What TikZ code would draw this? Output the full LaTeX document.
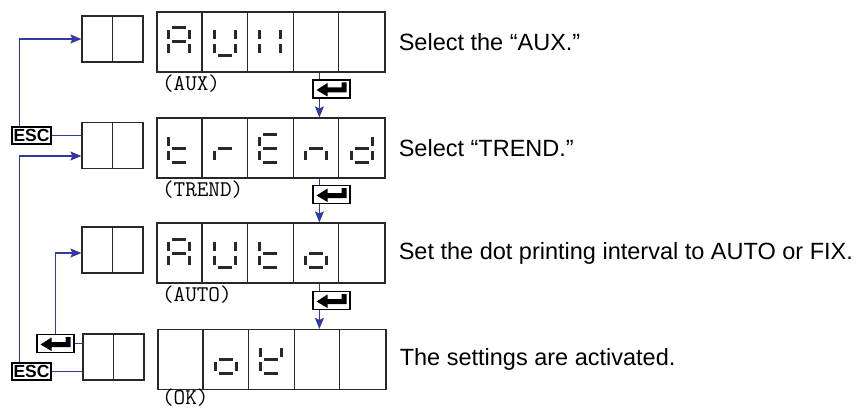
\documentclass[tikz,border=0pt]{standalone}
\usepackage{fontspec}
\setmainfont{Liberation Sans}
\usepackage{xcolor}
\usetikzlibrary{calc,positioning,arrows.meta}

\definecolor{linkblue}{RGB}{48,58,160}
\definecolor{frame}{RGB}{40,40,40}

% segments of one 7-segment character (centre at 0,0, y downwards)
\newcommand\segma{(-7,-14) -- (7,-14)}
\newcommand\segmb{(10.5,-11.5) -- (10.5,-2.5)}
\newcommand\segmc{(10.5,2.5) -- (10.5,11.5)}
\newcommand\segmd{(-7,14) -- (7,14)}
\newcommand\segme{(-10.5,2.5) -- (-10.5,11.5)}
\newcommand\segmf{(-10.5,-11.5) -- (-10.5,-2.5)}
\newcommand\segmg{(-7,0) -- (7,0)}
\newcommand\segchar[3]{%
  \begin{scope}[shift={($(#1.west)+({45.6*(#2-0.5)},0)$)}]
    \foreach \s in {#3} {\draw[seg] \csname segm\s\endcsname;}
  \end{scope}}
% arrow sign on an enter key
\newcommand\enterglyph[1]{%
  \fill[shift={(#1.center)}] (-15,1) -- (-4,-6) -- (-4,-1.5) -- (10,-1.5) -- (10,-6.5)
    -- (15,-6.5) -- (15,3.5) -- (-4,3.5) -- (-4,7.5) -- cycle;}

\tikzset{
  smallbox/.style={draw=frame, line width=1.2pt, minimum width=61pt, minimum height=46pt, inner sep=0pt},
  display/.style={draw=frame, line width=1.2pt, minimum width=228pt, minimum height=60pt, inner sep=0pt},
  divider/.style={draw=frame, line width=1.2pt},
  seg/.style={line width=3pt, frame},
  keybox/.style={draw=black, line width=1.4pt, fill=white, inner sep=0pt},
  esckey/.style={keybox, minimum width=39pt, minimum height=17pt, font=\fontsize{17.5}{17.5}\selectfont\bfseries},
  enterkey/.style={keybox, minimum width=37pt, minimum height=18pt},
  link/.style={draw=linkblue, line width=1.3pt},
  flow/.style={link, -{Stealth[length=11pt,width=9pt,inset=2pt]}},
  note/.style={anchor=west, inner sep=3pt, font=\fontsize{23.5}{26}\selectfont},
  code/.style={anchor=north west, inner sep=0.5pt, font=\ttfamily\fontsize{22.5}{22.5}\selectfont},
}

\begin{document}
\begin{tikzpicture}[x=1pt,y=-1pt]
  \useasboundingbox (0,0) rectangle (861,409);

  % Displays
  \node[display] (bg1) at (271,42) {};
  \node[display] (bg2) at (271,148) {};
  \node[display] (bg3) at (271,253) {};
  \node[display] (bg4) at (272,359.5) {};
  \foreach \r in {1,...,4}
    \foreach \k in {1,...,4}
      \draw[divider] ($(bg\r.north west)+(45.6*\k,0)$) -- ($(bg\r.south west)+(45.6*\k,0)$);

  % Small boxes
  \node[smallbox] (sm1) at (112.5,39) {};
  \node[smallbox] (sm2) at (112.5,145.5) {};
  \node[smallbox] (sm3) at (112.5,250) {};
  \node[smallbox] (sm4) at (113.5,357) {};
  \foreach \r in {1,...,4}
    \draw[divider] (sm\r.north) -- (sm\r.south);

  % Characters
  \segchar{bg1}{1}{a,b,c,e,f,g}
  \segchar{bg1}{2}{b,c,d,e,f}
  \segchar{bg1}{3}{b,c,e,f}
  \segchar{bg2}{1}{d,e,f,g}
  \segchar{bg2}{2}{e,g}
  \segchar{bg2}{3}{a,d,e,f,g}
  \segchar{bg2}{4}{c,e,g}
  \segchar{bg2}{5}{b,c,d,e,g}
  \segchar{bg3}{1}{a,b,c,e,f,g}
  \segchar{bg3}{2}{b,c,d,e,f}
  \segchar{bg3}{3}{d,e,f,g}
  \segchar{bg3}{4}{c,d,e,g}
  \segchar{bg4}{2}{c,d,e,g}
  \segchar{bg4}{3}{b,d,e,f,g}

  % Labels under the displays
  \node[code] at ([xshift=5pt,yshift=-1.5pt]bg1.south west) {(AUX)};
  \node[code] at ([xshift=5pt,yshift=-1.5pt]bg2.south west) {(TREND)};
  \node[code] at ([xshift=5pt,yshift=-1.5pt]bg3.south west) {(AUTO)};
  \node[code] at ([xshift=4pt,yshift=1.5pt]bg4.south west) {(OK)};

  % Notes
  \node[note, right=10pt of bg1] (n1) {Select the “AUX.”};
  \node[note, right=10pt of bg2] (n2) {Select “TREND.”};
  \node[note, right=10pt of bg3] (n3) {Set the dot printing interval to AUTO or FIX.};
  \node[note, right=10pt of bg4] (n4) {The settings are activated.};

  % Enter steps
  \draw[flow] ($(bg1.south west)+(163,0)$) -- ($(bg2.north west)+(163,0)$);
  \draw[flow] ($(bg2.south west)+(163,0)$) -- ($(bg3.north west)+(163,0)$);
  \draw[flow] ($(bg3.south west)+(163,0)$) -- ($(bg4.north west)+(162,0)$);
  \node[enterkey] (ent1) at (331.5,89) {};
  \node[enterkey] (ent2) at (331.5,194.5) {};
  \node[enterkey] (ent3) at (331.5,300.5) {};

  % Keys on the left
  \node[esckey] (esc1) at (31.5,135.5) {ESC};
  \node[esckey] (esc2) at (31.5,371.5) {ESC};
  \node[enterkey] (ent4) at (55.5,343.5) {};
  \foreach \e in {ent1,ent2,ent3,ent4} {\enterglyph{\e}}

  % Returns
  \draw[flow] ([xshift=8.5pt]esc1.north west) |- (sm1.west);
  \draw[link] (esc1.east) -- (esc1.east -| sm2.west);
  \draw[flow] ([xshift=8.5pt]esc2.north west) |- ([yshift=-10.5pt]sm2.west);
  \draw[link] (esc2.east) -- (esc2.east -| sm4.west);
  \draw[flow] (ent4.north) |- ([yshift=-3pt]sm3.west);
  \draw[link] (ent4.east) -- (ent4.east -| sm4.west);
\end{tikzpicture}
\end{document}
